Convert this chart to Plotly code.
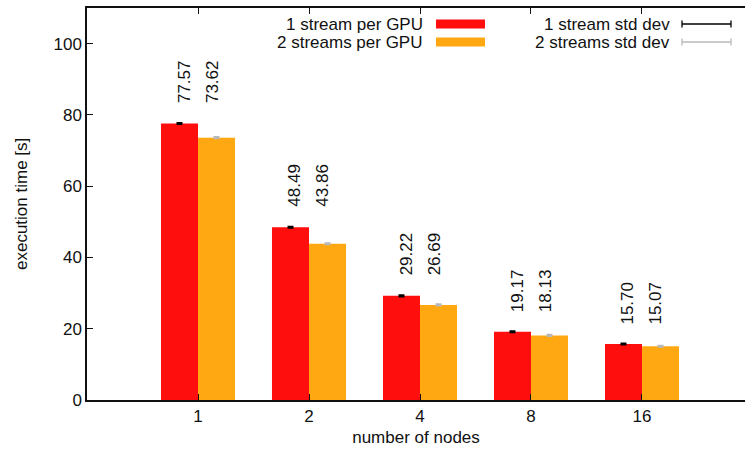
import plotly.graph_objects as go

nodes = ["1", "2", "4", "8", "16"]
one_stream = [77.57, 48.49, 29.22, 19.17, 15.70]
two_streams = [73.62, 43.86, 26.69, 18.13, 15.07]
one_std = [0.15, 0.15, 0.15, 0.15, 0.15]
two_std = [0.15, 0.15, 0.15, 0.15, 0.15]

W, H = 745, 456
L, R, T, B = 87, 0, 8, 56
FONT = "Liberation Sans, Arial, Helvetica, sans-serif"
FS = 17
RED = "#ff0e0e"
ORANGE = "#ffa812"
GRAY = "#b8b8b8"
TXT = "#111111"

def px(x):
    return (x - L) / (W - L - R)

def py(y):
    return (H - B - y) / (H - T - B)

fig = go.Figure()
fig.add_trace(go.Bar(
    x=nodes, y=one_stream, name="1 stream per GPU",
    marker=dict(color=RED, line=dict(width=0)),
    error_y=dict(type="data", array=one_std, color="#000000", thickness=2, width=3),
))
fig.add_trace(go.Bar(
    x=nodes, y=two_streams, name="2 streams per GPU",
    marker=dict(color=ORANGE, line=dict(width=0)),
    error_y=dict(type="data", array=two_std, color=GRAY, thickness=2, width=3),
))

annotations = []
for i, (a, b) in enumerate(zip(one_stream, two_streams)):
    for v, xs in ((a, -14), (b, 14)):
        annotations.append(dict(
            x=i, y=a, xref="x", yref="y", text=f"{v:.2f}", showarrow=False,
            textangle=-90, xanchor="center", yanchor="bottom", xshift=xs, yshift=18,
            font=dict(family=FONT, size=FS, color=TXT),
        ))

# y axis title
annotations.append(dict(x=px(21), y=py(204), xref="paper", yref="paper",
                        text="execution time [s]", showarrow=False, textangle=-90,
                        xanchor="center", yanchor="middle",
                        font=dict(family=FONT, size=FS, color=TXT)))

# legend (manual, gnuplot style)
legend_rows = [
    ("1 stream per GPU", RED, "1 stream std dev", "#000000", 24),
    ("2 streams per GPU", ORANGE, "2 streams std dev", GRAY, 42),
]
shapes = []
for t1, c1, t2, c2, yy in legend_rows:
    annotations.append(dict(x=px(425), y=py(yy), xref="paper", yref="paper", text=t1,
                            showarrow=False, xanchor="right", yanchor="middle",
                            font=dict(family=FONT, size=FS, color=TXT)))
    annotations.append(dict(x=px(672), y=py(yy), xref="paper", yref="paper", text=t2,
                            showarrow=False, xanchor="right", yanchor="middle",
                            font=dict(family=FONT, size=FS, color=TXT)))
    shapes.append(dict(type="rect", xref="paper", yref="paper",
                       x0=px(436), x1=px(485), y0=py(yy + 4.5), y1=py(yy - 4.5),
                       fillcolor=c1, line=dict(width=0)))
    shapes.append(dict(type="line", xref="paper", yref="paper",
                       x0=px(682), x1=px(731), y0=py(yy), y1=py(yy),
                       line=dict(color=c2, width=1.3)))
    for cx in (682, 731):
        shapes.append(dict(type="line", xref="paper", yref="paper",
                           x0=px(cx), x1=px(cx), y0=py(yy - 3.5), y1=py(yy + 3.5),
                           line=dict(color=c2, width=1.3)))

fig.update_layout(
    width=W, height=H,
    margin=dict(l=L, r=R, t=T, b=B, pad=0),
    paper_bgcolor="white", plot_bgcolor="white",
    barmode="group", bargap=0.333, bargroupgap=0,
    showlegend=False,
    font=dict(family=FONT, size=FS, color=TXT),
    annotations=annotations, shapes=shapes,
    xaxis=dict(
        type="category", range=[-1, 4.928], automargin=False,
        showline=True, linecolor=TXT, linewidth=1.5, mirror="ticks",
        ticks="inside", ticklen=6, tickcolor=TXT, tickwidth=1,
        showgrid=False, zeroline=False,
        tickfont=dict(family=FONT, size=FS, color=TXT),
        title=dict(text="number of nodes", font=dict(family=FONT, size=FS, color=TXT), standoff=6),
    ),
    yaxis=dict(
        range=[0, 110], tickvals=[0, 20, 40, 60, 80, 100], automargin=False,
        showline=True, linecolor=TXT, linewidth=1.5, mirror=False,
        ticks="inside", ticklen=6, tickcolor=TXT, tickwidth=1,
        showgrid=False, zeroline=False,
        tickfont=dict(family=FONT, size=FS, color=TXT),
    ),
)

fig.write_html("out.html", config={"displayModeBar": False},
               post_script="document.body.style.margin='0';document.body.style.overflow='hidden';")
